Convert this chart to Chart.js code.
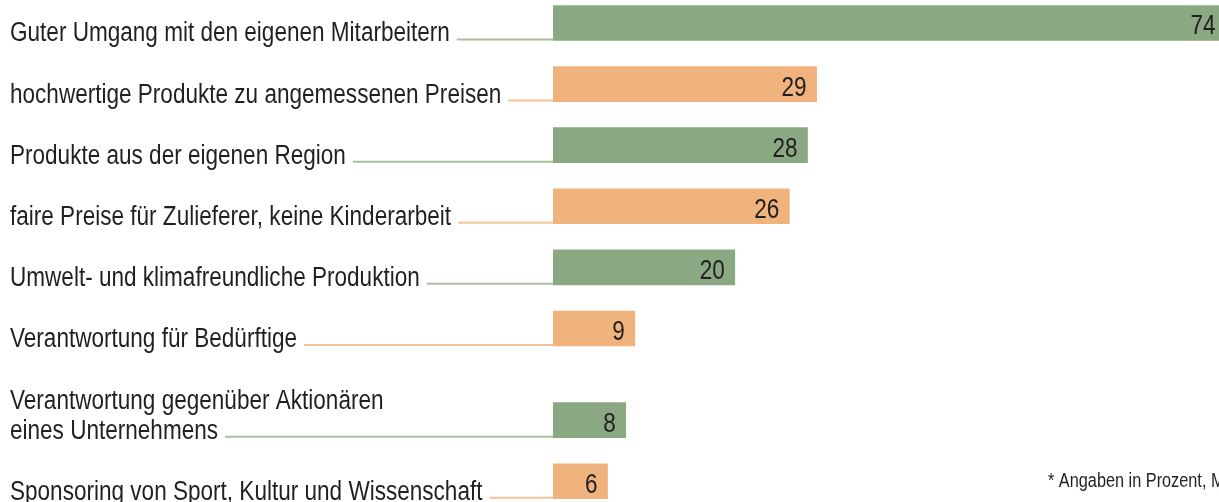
<!DOCTYPE html>
<html lang="de">
<head>
<meta charset="utf-8">
<title>Unternehmensverantwortung</title>
<script src="https://cdn.jsdelivr.net/npm/chart.js@4/dist/chart.umd.min.js"></script>
<style>
  html, body { margin: 0; padding: 0; background: #fff; overflow: hidden; }
  #chart { display: block; }
</style>
</head>
<body>
<canvas id="chart" width="1219" height="502"></canvas>
<script>
// Kategorien (mehrzeilige Beschriftung als Array)
const categories = [
  'Guter Umgang mit den eigenen Mitarbeitern',
  'hochwertige Produkte zu angemessenen Preisen',
  'Produkte aus der eigenen Region',
  'faire Preise für Zulieferer, keine Kinderarbeit',
  'Umwelt- und klimafreundliche Produktion',
  'Verantwortung für Bedürftige',
  ['Verantwortung gegenüber Aktionären', 'eines Unternehmens'],
  'Sponsoring von Sport, Kultur und Wissenschaft'
];
const values = [74, 29, 28, 26, 20, 9, 8, 6];
const barColors = ['#8aa882', '#f0b37e', '#8aa882', '#f0b37e', '#8aa882', '#f0b37e', '#8aa882', '#f0b37e'];
const lineColors = ['#a6bfa0', '#f3c49b', '#a6bfa0', '#f3c49b', '#a6bfa0', '#f3c49b', '#a6bfa0', '#f3c49b'];
const footnote = '* Angaben in Prozent, Mehrfachnennungen möglich';

const FONT = '"Liberation Sans", Arial, sans-serif';
const TEXT = '#231f20';
const NARROW = 0.835; // kein Narrow-Font installiert -> horizontal stauchen

// Zeilen mit zweizeiliger Beschriftung bekommen eine halbe Zeile mehr Platz
const slots = [];
categories.forEach((c, i) => {
  const lines = Array.isArray(c) ? c.length : 1;
  const prev = i === 0 ? 0 : slots[i - 1] + 1;
  slots.push(prev + (lines - 1) * 0.5);
});

function narrowText(ctx, text, x, y, align) {
  ctx.save();
  ctx.translate(x, y);
  ctx.scale(NARROW, 1);
  ctx.textAlign = align;
  ctx.fillText(text, 0, 0);
  ctx.restore();
  return ctx.measureText(text).width * NARROW;
}

const labelPlugin = {
  id: 'rowLabels',
  afterDatasetsDraw(chart) {
    const ctx = chart.ctx;
    const meta = chart.getDatasetMeta(0);
    ctx.save();
    ctx.font = '27px ' + FONT;
    ctx.textBaseline = 'alphabetic';
    ctx.fillStyle = TEXT;
    meta.data.forEach((bar, i) => {
      const p = bar.getProps(['x', 'y', 'base', 'height'], true);
      const bottom = p.y + p.height / 2;
      const lines = [].concat(categories[i]);

      // Beschriftung links
      let w = 0;
      lines.forEach((t, k) => {
        w = narrowText(ctx, t, 10, bottom + 1 - (lines.length - 1 - k) * 30, 'left');
      });

      // Verbindungslinie bis zum Balken
      const end = 10 + w + 7;
      ctx.strokeStyle = lineColors[i];
      ctx.lineWidth = 2;
      ctx.beginPath();
      ctx.moveTo(end, bottom - 1);
      ctx.lineTo(p.base, bottom - 1);
      ctx.stroke();

      // Wert im Balken
      narrowText(ctx, String(values[i]), p.x - 10, bottom - 6, 'right');
    });
    ctx.restore();
  },
  afterDraw(chart) {
    const ctx = chart.ctx;
    ctx.save();
    ctx.font = '19.5px ' + FONT;
    ctx.fillStyle = TEXT;
    ctx.textBaseline = 'alphabetic';
    narrowText(ctx, footnote, 1048, 487, 'left');
    ctx.restore();
  }
};

function draw() {
  new Chart(document.getElementById('chart'), {
    type: 'bar',
    data: {
      datasets: [{
        data: values.map((v, i) => ({ x: v, y: slots[i] })),
        backgroundColor: barColors,
        borderWidth: 0,
        barThickness: 35
      }]
    },
    options: {
      indexAxis: 'y',
      responsive: false,
      animation: false,
      layout: { padding: { left: 553, right: 0, top: 0, bottom: 0 } },
      scales: {
        x: { type: 'linear', min: 0, max: 73.27, display: false },
        y: { type: 'linear', min: -0.376, max: 7.84, reverse: true, offset: false, display: false }
      },
      plugins: {
        legend: { display: false },
        tooltip: { enabled: false }
      }
    },
    plugins: [labelPlugin]
  });
}

if (document.fonts && document.fonts.load) {
  document.fonts.load('27px "Liberation Sans"').then(draw, draw);
} else {
  draw();
}
</script>
</body>
</html>
